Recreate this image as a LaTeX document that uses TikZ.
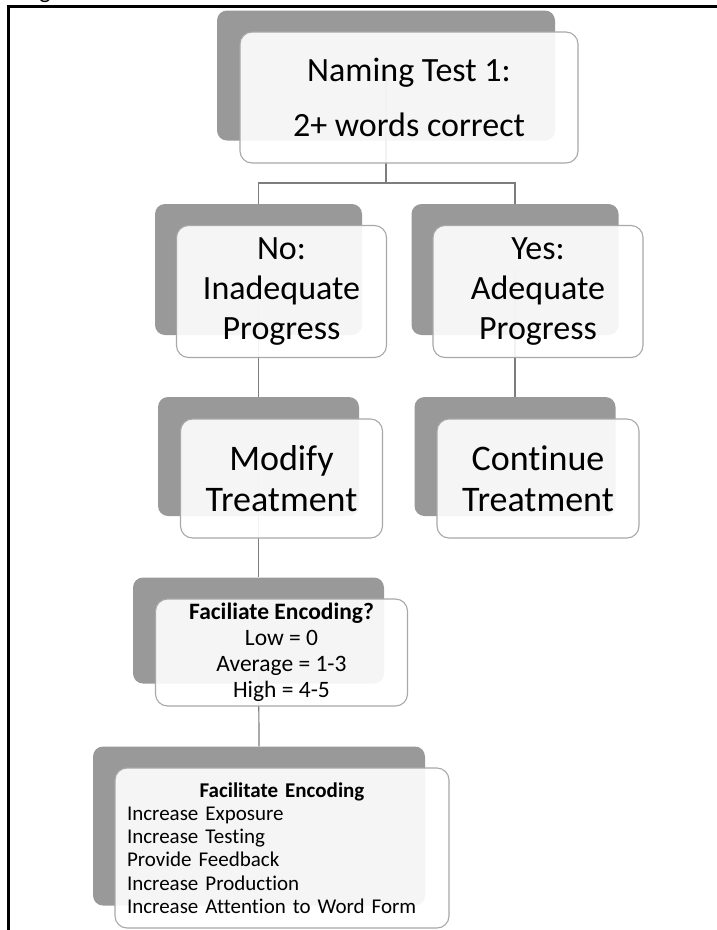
\documentclass[tikz,border=0pt]{standalone}
\usepackage{fontspec}
\setmainfont{Carlito}[RawFeature={-liga;-clig;-dlig}]
\usepackage{tikz}
\usetikzlibrary{positioning}

\definecolor{shadegray}{RGB}{153,153,153}
\definecolor{edgegray}{RGB}{168,168,168}
\definecolor{linkgray}{RGB}{125,125,125}

\begin{document}
\begin{tikzpicture}[x=1pt, y=-1pt,
    back/.style={fill=shadegray, rounded corners=10pt, inner sep=0pt},
    front/.style={draw=edgegray, fill=white, fill opacity=0.9, text opacity=1, line width=1.1pt, rounded corners=12pt, inner sep=0pt, align=center},
    link/.style={draw=linkgray, line width=1.2pt}]
  \useasboundingbox (0,0) rectangle (717,930);
  \draw[line width=3pt] (717,6.5) -- (8,6.5) -- (8,932);
  \node[anchor=base, inner sep=0pt, font=\fontsize{24}{28}\selectfont] (figmark) at (45,-2) {g};

  \node[back, minimum width=338pt, minimum height=130pt] (testbg) at (386,75.5) {};
  \node[back, minimum width=207pt, minimum height=131pt] (nobg) at (258.5,269.5) {};
  \node[back, minimum width=207pt, minimum height=131pt] (yesbg) at (515,269.5) {};
  \node[back, minimum width=201pt, minimum height=119pt] (modbg) at (258.5,456.5) {};
  \node[back, minimum width=201pt, minimum height=119pt] (contbg) at (515,456.5) {};
  \node[back, minimum width=251pt, minimum height=106pt] (askbg) at (258.5,630.5) {};
  \node[back, minimum width=332pt, minimum height=159pt] (encbg) at (259,826) {};

  \coordinate (split) at (386,183);
  \draw[link] (testbg.center) -- (split);
  \draw[link] (split) -| (nobg.north);
  \draw[link] (split) -| (yesbg.north);
  \draw[link] (nobg.center) -- (modbg.north);
  \draw[link] (yesbg.center) -- (contbg.north);
  \draw[link] (modbg.center) -- (askbg.north);
  \draw[link] (askbg.center) -- (encbg.north);

  \node[front, minimum width=338pt, minimum height=131pt, font=\fontsize{34}{55}\selectfont] (test) at ([xshift=23pt,yshift=-22pt]testbg.center) {Naming Test 1:\\2+ words correct};
  \node[front, minimum width=210pt, minimum height=132pt, font=\fontsize{34}{40}\selectfont] (no) at ([xshift=23pt,yshift=-22pt]nobg.center) {No:\\Inadequate\\Progress};
  \node[front, minimum width=210pt, minimum height=132pt, font=\fontsize{34}{40}\selectfont] (yes) at ([xshift=23pt,yshift=-22pt]yesbg.center) {Yes:\\Adequate\\Progress};
  \node[front, minimum width=202pt, minimum height=119pt, font=\fontsize{36}{41}\selectfont] (mod) at ([xshift=23pt,yshift=-22pt]modbg.center) {Modify\\Treatment};
  \node[front, minimum width=202pt, minimum height=119pt, font=\fontsize{36}{41}\selectfont] (cont) at ([xshift=23pt,yshift=-22pt]contbg.center) {Continue\\Treatment};
  \node[front, minimum width=252pt, minimum height=107pt, font=\fontsize{23.5}{26}\selectfont] (ask) at ([xshift=23pt,yshift=-22pt]askbg.center) {\textbf{Faciliate Encoding?}\\Low = 0\\Average = 1-3\\High = 4-5};
  \node[front, minimum width=334pt, minimum height=160pt, text width=310pt, align=left, font=\fontsize{21}{23.3}\selectfont] (enc) at ([xshift=23pt,yshift=-22pt]encbg.center) {\makebox[310pt]{\textbf{Facilitate Encoding}}\\Increase Exposure\\Increase Testing\\Provide Feedback\\Increase Production\\Increase Attention to Word Form};
\end{tikzpicture}
\end{document}
